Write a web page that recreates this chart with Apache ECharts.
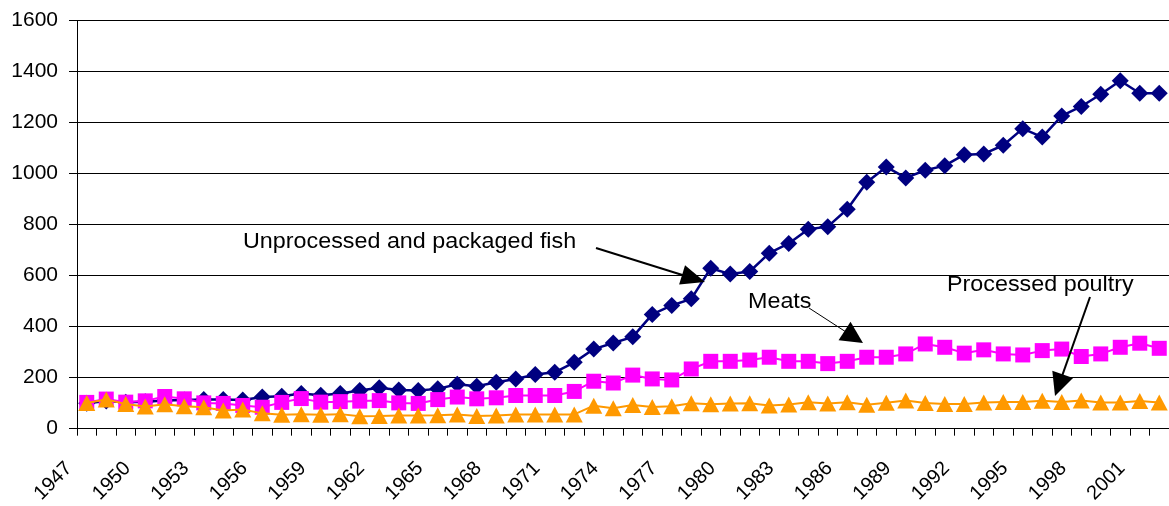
<!DOCTYPE html>
<html><head><meta charset="utf-8">
<script src="https://cdn.jsdelivr.net/npm/echarts@6/dist/echarts.min.js"></script>
<style>html,body{margin:0;padding:0;background:#fff}#c{width:1169px;height:506px}</style>
</head><body><div id="c"></div>
<script>
const years = ['1947','1948','1949','1950','1951','1952','1953','1954','1955','1956','1957','1958','1959','1960','1961','1962','1963','1964','1965','1966','1967','1968','1969','1970','1971','1972','1973','1974','1975','1976','1977','1978','1979','1980','1981','1982','1983','1984','1985','1986','1987','1988','1989','1990','1991','1992','1993','1994','1995','1996','1997','1998','1999','2000','2001','2002'];

const fish = [100,108,104,106,110,112,114,114,112,124,127,138,131,138,150,160,152,150,156,174,166,182,195,212,221,260,312,336,360,448,483,509,629,606,616,688,726,782,792,860,966,1026,983,1013,1031,1074,1077,1111,1176,1143,1226,1263,1311,1364,1315,1315];

const meats = [103,116,104,109,126,117,101,99,91,84,103,118,104,106,108,110,101,99,114,124,117,121,130,130,130,146,186,179,210,195,191,234,264,264,269,280,264,264,255,264,280,280,293,332,319,296,309,293,289,306,312,283,293,319,335,315];

const poultry = [101,114,97,87,96,88,84,71,75,60,55,57,55,57,49,50,52,52,53,56,50,52,56,56,56,56,90,80,93,85,88,100,96,99,100,91,95,104,99,104,94,102,110,101,97,97,103,105,105,109,105,110,103,103,108,103];

const yTicks = [0,200,400,600,800,1000,1200,1400,1600];

const annotations = [
  {text:'Unprocessed and packaged fish', tx:243, ty:242, x1:596, y1:248, x2:705, y2:282, len:24, half:10, lw:2},
  {text:'Meats', tx:748, ty:302, x1:809, y1:308, x2:863, y2:343, len:22, half:11, lw:1},
  {text:'Processed poultry', tx:947, ty:285, x1:1090, y1:297, x2:1055, y2:396, len:23, half:11, lw:2}
];

function arrowGraphics(a){
  const dx=a.x2-a.x1, dy=a.y2-a.y1, L=Math.hypot(dx,dy), ux=dx/L, uy=dy/L;
  const bx=a.x2-ux*a.len, by=a.y2-uy*a.len;
  const px=-uy, py=ux;
  return [
    {type:'text', x:a.tx, y:a.ty, scaleX:1.06, style:{text:a.text, fill:'#000', font:'22px "Liberation Sans", Arial, sans-serif', textVerticalAlign:'middle', verticalAlign:'middle'}, z:100},
    {type:'line', shape:{x1:a.x1,y1:a.y1,x2:bx+ux*2,y2:by+uy*2}, style:{stroke:'#000', lineWidth:a.lw}, z:100},
    {type:'polygon', shape:{points:[[a.x2,a.y2],[bx+px*a.half,by+py*a.half],[bx-px*a.half,by-py*a.half]]}, style:{fill:'#000'}, z:100}
  ];
}

const chart = echarts.init(document.getElementById('c'), null, {renderer:'canvas'});
const font = '"Liberation Sans", Arial, sans-serif';
chart.setOption({
  animation:false,
  backgroundColor:'#fff',
  grid:{left:77, top:20.5, bottom:76, right:-5.6, containLabel:false},
  xAxis:{
    type:'category', data:years, boundaryGap:true,
    axisLine:{show:true, lineStyle:{color:'#000', width:1}},
    axisTick:{show:true, interval:0, length:7, alignWithLabel:false, lineStyle:{color:'#000'}},
    axisLabel:{interval:2, rotate:45, fontSize:20, fontFamily:font, color:'#000', margin:19, padding:[0,25,0,0]},
    splitLine:{show:false}
  },
  yAxis:{
    type:'value', min:yTicks[0], max:yTicks[yTicks.length-1], interval:200,
    axisLine:{show:true, lineStyle:{color:'#000', width:1}},
    axisTick:{show:true, length:8, lineStyle:{color:'#000'}},
    axisLabel:{fontSize:21, fontFamily:font, color:'#000', margin:19, formatter:function(v){return String(v);}},
    splitLine:{show:true, lineStyle:{color:'#000', width:1}}
  },
  series:[
    {name:'Unprocessed and packaged fish', type:'line', data:fish, symbol:'diamond', symbolSize:17, showAllSymbol:true,
     itemStyle:{color:'#000080'}, lineStyle:{color:'#000080', width:2.5}, z:2},
    {name:'Meats', type:'line', data:meats, symbol:'rect', symbolSize:15, showAllSymbol:true,
     itemStyle:{color:'#FF00FF'}, lineStyle:{color:'#FF00FF', width:2}, z:3},
    {name:'Processed poultry', type:'line', data:poultry, symbol:'triangle', symbolSize:[17,16], showAllSymbol:true,
     itemStyle:{color:'#FF9900'}, lineStyle:{color:'#FF9900', width:2}, z:4}
  ],
  graphic: annotations.flatMap(arrowGraphics)
});
</script></body></html>
